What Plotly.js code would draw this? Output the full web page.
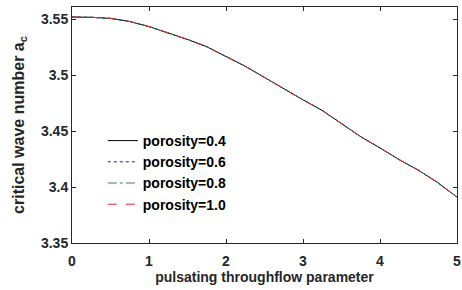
<!DOCTYPE html>
<html>
<head>
<meta charset="utf-8">
<script src="https://cdn.plot.ly/plotly-3.0.1.min.js"></script>
<style>html,body{margin:0;padding:0;background:#fff}#chart{width:462px;height:290px}</style>
</head>
<body>
<div id="chart"></div>
<script>
const xVals = [0, 0.25, 0.5, 0.75, 1.0, 1.25, 1.5, 1.75, 2.0, 2.25, 2.5, 2.75, 3.0, 3.25, 3.5, 3.75, 4.0, 4.25, 4.5, 4.75, 5.0];
const acPor04 = [3.552, 3.5518, 3.5508, 3.548, 3.5435, 3.538, 3.532, 3.5255, 3.5168, 3.508, 3.498, 3.4878, 3.478, 3.4685, 3.457, 3.445, 3.435, 3.4245, 3.415, 3.404, 3.391];
const acPor06 = [3.552, 3.5518, 3.5508, 3.548, 3.5435, 3.538, 3.532, 3.5255, 3.5168, 3.508, 3.498, 3.4878, 3.478, 3.4685, 3.457, 3.445, 3.435, 3.4245, 3.415, 3.404, 3.391];
const acPor08 = [3.552, 3.5518, 3.5508, 3.548, 3.5435, 3.538, 3.532, 3.5255, 3.5168, 3.508, 3.498, 3.4878, 3.478, 3.4685, 3.457, 3.445, 3.435, 3.4245, 3.415, 3.404, 3.391];
const acPor10 = [3.552, 3.5518, 3.5508, 3.548, 3.5435, 3.538, 3.532, 3.5255, 3.5168, 3.508, 3.498, 3.4878, 3.478, 3.4685, 3.457, 3.445, 3.435, 3.4245, 3.415, 3.404, 3.391];
const seriesNames = ['porosity=0.4', 'porosity=0.6', 'porosity=0.8', 'porosity=1.0'];
const xTicks = [0, 1, 2, 3, 4, 5];
const yTicks = [3.35, 3.4, 3.45, 3.5, 3.55];
const yTickText = ['3.35', '3.4', '3.45', '3.5', '3.55'];

const styles = [
  {color: '#000000', dash: 'solid'},
  {color: '#1f1f9f', dash: 'dot'},
  {color: '#2e8b2e', dash: 'dashdot'},
  {color: '#e0262e', dash: 'dash'}
];
const ys = [acPor04, acPor06, acPor08, acPor10];
const traces = ys.map((y, i) => ({
  x: xVals, y: y, type: 'scatter', mode: 'lines', name: seriesNames[i],
  line: {color: styles[i].color, dash: styles[i].dash, width: 1}
}));

const fontFam = '"Liberation Sans", Arial, sans-serif';
const layout = {
  width: 462, height: 290,
  margin: {l: 72, r: 5, t: 7, b: 47},
  paper_bgcolor: '#fff', plot_bgcolor: '#fff',
  font: {family: fontFam, size: 13, color: '#262626'},
  showlegend: true,
  legend: {x: 0.08, y: 0.5, xanchor: 'left', yanchor: 'top', bgcolor: 'rgba(0,0,0,0)',
    font: {family: fontFam, size: 14, color: '#000', weight: 'bold'}, tracegroupgap: 0},
  xaxis: {
    range: [0, 5], tickvals: xTicks, ticktext: xTicks.map(String),
    ticks: 'inside', ticklen: 4, tickcolor: '#262626', mirror: 'ticks', ticklabelstandoff: 5,
    showline: true, linecolor: '#262626', linewidth: 1, showgrid: false, zeroline: false,
    tickfont: {family: fontFam, size: 14, color: '#262626', weight: 'bold'},
    title: {text: 'pulsating throughflow parameter', standoff: 4,
      font: {family: fontFam, size: 14, color: '#262626', weight: 'bold'}}
  },
  yaxis: {
    range: [3.35, 3.561], tickvals: yTicks, ticktext: yTickText,
    ticks: 'inside', ticklen: 4, tickcolor: '#262626', mirror: 'ticks',
    showline: true, linecolor: '#262626', linewidth: 1, showgrid: false, zeroline: false,
    tickfont: {family: fontFam, size: 14, color: '#262626', weight: 'bold'},
    title: {text: 'critical wave number a<sub>c</sub>', standoff: 12,
      font: {family: fontFam, size: 16, color: '#262626', weight: 'bold'}}
  }
};
Plotly.newPlot('chart', traces, layout, {displayModeBar: false, staticPlot: true});
</script>
</body>
</html>
